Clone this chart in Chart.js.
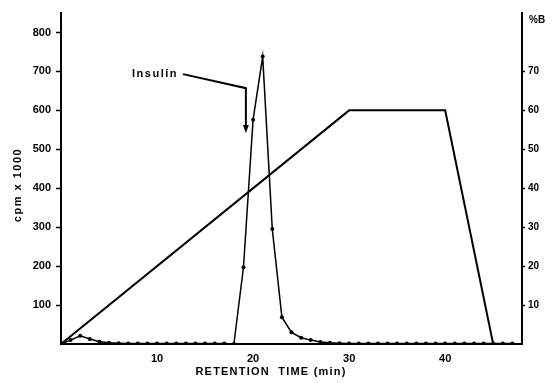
<!DOCTYPE html>
<html>
<head>
<meta charset="utf-8">
<script src="https://cdn.jsdelivr.net/npm/chart.js@4/dist/chart.umd.min.js"></script>
<style>
  html, body { margin: 0; padding: 0; background: #fff; }
  #wrap { width: 553px; height: 383px; }
</style>
</head>
<body>
<div id="wrap"><canvas id="chart" width="553" height="383"></canvas></div>
<script>
// Radioactivity per fraction (one fraction per minute)
const minutes = [0, 1, 2, 3, 4, 5, 6, 7, 8, 9, 10, 11, 12, 13, 14, 15, 16, 17, 18, 19,
                 20, 21, 22, 23, 24, 25, 26, 27, 28, 29, 30, 31, 32, 33, 34, 35, 36, 37, 38, 39,
                 40, 41, 42, 43, 44, 45, 46, 47];
const cpm = [0, 10, 21, 13, 6, 3, 2, 1, 1, 1, 1, 1, 1, 1, 1, 1, 1, 1, 0, 197,
             576, 738, 295, 69, 30, 16, 10, 5, 3, 2, 1, 1, 1, 1, 1, 1, 1, 1, 1, 1,
             1, 1, 1, 1, 1, 1, 1, 1];

// Gradient (% buffer B)
const gradientTime = [0, 30, 40, 45];
const gradientPct = [0, 60, 60, 0];

// Tick labels
const xTicks = [10, 20, 30, 40];
const cpmTicks = [100, 200, 300, 400, 500, 600, 700, 800];
const pctTicks = [10, 20, 30, 40, 50, 60, 70];

const FONT = "'Liberation Sans', Arial, sans-serif";

// Draws axis titles and the "Insulin" pointer
const labelsPlugin = {
    id: 'labels',
    afterDraw(chart) {
        const ctx = chart.ctx;
        const x = chart.scales.x;
        const y = chart.scales.y;
        ctx.save();
        ctx.fillStyle = '#000';
        ctx.strokeStyle = '#000';

        // left axis title
        ctx.font = 'bold 11px ' + FONT;
        ctx.letterSpacing = '1.5px';
        ctx.textAlign = 'center';
        ctx.textBaseline = 'middle';
        ctx.save();
        ctx.translate(18, 185);
        ctx.rotate(-Math.PI / 2);
        ctx.fillText('cpm x 1000', 0, 0);
        ctx.restore();

        // right axis title
        ctx.letterSpacing = '0px';
        ctx.font = 'bold 10px ' + FONT;
        ctx.textAlign = 'left';
        ctx.fillText('%B', 529, 20);

        // bottom axis title
        ctx.font = 'bold 11px ' + FONT;
        ctx.letterSpacing = '1.2px';
        ctx.textAlign = 'center';
        ctx.fillText('RETENTION  TIME (min)', 271, 372);

        // insulin pointer
        ctx.letterSpacing = '1.5px';
        ctx.textAlign = 'right';
        ctx.fillText('Insulin', 178, 74);

        const sx = x.getPixelForValue(12.7), sy = y.getPixelForValue(693);
        const cx = x.getPixelForValue(19.25), cy = y.getPixelForValue(657);
        const ty = y.getPixelForValue(542);
        ctx.lineWidth = 2;
        ctx.beginPath();
        ctx.moveTo(sx, sy);
        ctx.lineTo(cx, cy);
        ctx.lineTo(cx, ty - 6);
        ctx.stroke();
        ctx.beginPath();
        ctx.moveTo(cx - 3, ty - 8);
        ctx.lineTo(cx + 3, ty - 8);
        ctx.lineTo(cx, ty);
        ctx.closePath();
        ctx.fill();
        ctx.restore();
    }
};

const ctx = document.getElementById('chart').getContext('2d');
new Chart(ctx, {
    type: 'line',
    data: {
        datasets: [
            {
                label: 'cpm',
                data: minutes.map((m, i) => ({ x: m, y: cpm[i] })),
                yAxisID: 'y',
                borderColor: '#000',
                backgroundColor: '#000',
                borderWidth: 1.5,
                pointRadius: 2,
                pointBorderWidth: 0,
                tension: 0
            },
            {
                label: '%B',
                data: gradientTime.map((t, i) => ({ x: t, y: gradientPct[i] })),
                yAxisID: 'y1',
                borderColor: '#000',
                borderWidth: 2,
                pointRadius: 0,
                tension: 0
            }
        ]
    },
    options: {
        responsive: false,
        animation: false,
        devicePixelRatio: 1,
        layout: { padding: { top: 13, left: 0, right: 0, bottom: 0 } },
        plugins: {
            legend: { display: false },
            tooltip: { enabled: false }
        },
        scales: {
            x: {
                type: 'linear',
                min: 0,
                max: 48,
                afterBuildTicks: s => { s.ticks = xTicks.map(v => ({ value: v })); },
                afterFit: s => { s.height = 39; },
                grid: { drawOnChartArea: false, drawTicks: false },
                border: { color: '#000', width: 2 },
                ticks: { padding: 8, color: '#000', font: { family: FONT, size: 11, weight: 'bold' } }
            },
            y: {
                position: 'left',
                min: 0,
                max: 850,
                afterBuildTicks: s => { s.ticks = cpmTicks.map(v => ({ value: v })); },
                afterFit: s => { s.width = 61; },
                grid: { drawOnChartArea: false, tickLength: 5, tickWidth: 1.5, tickColor: '#000' },
                border: { color: '#000', width: 2 },
                ticks: { padding: 5, color: '#000', font: { family: FONT, size: 11, weight: 'bold' } }
            },
            y1: {
                position: 'right',
                min: 0,
                max: 85,
                afterBuildTicks: s => { s.ticks = pctTicks.map(v => ({ value: v })); },
                afterFit: s => { s.width = 31; },
                grid: { drawOnChartArea: false, tickLength: 3, tickWidth: 1.5, tickColor: '#000' },
                border: { color: '#000', width: 2 },
                ticks: { padding: 3, color: '#000', font: { family: FONT, size: 10, weight: 'bold' } }
            }
        }
    },
    plugins: [labelsPlugin]
});
</script>
</body>
</html>
